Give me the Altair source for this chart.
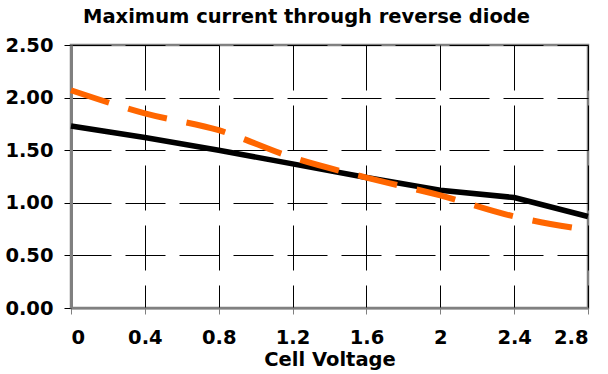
import altair as alt
import pandas as pd

# Cell voltage (V) and maximum reverse-diode current (A) for two series
voltage = [0.0, 0.4, 0.8, 1.2, 1.6, 2.0, 2.4, 2.8]
current_a = [1.73, 1.62, 1.50, 1.37, 1.24, 1.12, 1.05, 0.87]
current_b = [2.07, 1.85, 1.69, 1.43, 1.24, 1.07, 0.87, 0.74]

x_ticks = [0.0, 0.4, 0.8, 1.2, 1.6, 2.0, 2.4, 2.8]
y_ticks = [0.0, 0.5, 1.0, 1.5, 2.0, 2.5]

df = pd.DataFrame({"voltage": voltage, "a": current_a, "b": current_b})

FONT = "DejaVu Sans"
SIZE = 19.5

x_enc = alt.X(
    "voltage:Q",
    title="Cell Voltage",
    scale=alt.Scale(domain=[0, 2.8], nice=False),
    axis=alt.Axis(
        values=x_ticks,
        labelExpr="format(datum.value, '.2~f')",
        grid=True,
        gridColor="black",
        gridDash=[45, 15],
        gridWidth=1,
        domainColor="#808080",
        domainWidth=2,
        tickColor="#808080",
        tickSize=6,
        labelFont=FONT,
        labelFontWeight="bold",
        labelFontSize=SIZE,
        labelColor="black",
        labelPadding=14,
        labelOverlap=False,
        titleFont=FONT,
        titleFontWeight="bold",
        titleFontSize=SIZE,
        titleColor="black",
        titlePadding=4,
    ),
)

y_axis = alt.Axis(
    values=y_ticks,
    format=".2f",
    title=None,
    grid=True,
    gridColor="black",
    gridDash=[40, 14],
    gridWidth=1,
    domainColor="#808080",
    domainWidth=3,
    tickColor="black",
    tickSize=7,
    labelFont=FONT,
    labelFontWeight="bold",
    labelFontSize=SIZE,
    labelColor="black",
    labelPadding=11,
)

black_line = alt.Chart(df).mark_line(
    color="black", strokeWidth=5.5, strokeCap="butt"
).encode(
    x=x_enc,
    y=alt.Y("a:Q", scale=alt.Scale(domain=[0, 2.5], nice=False), axis=y_axis),
)

orange_line = alt.Chart(df).mark_line(
    color="#FF6600", strokeWidth=6, strokeDash=[40, 20], strokeCap="butt",
    interpolate="monotone",
).encode(
    x=alt.X("voltage:Q"),
    y=alt.Y("b:Q"),
)

chart = (
    alt.layer(black_line, orange_line)
    .properties(
        width=517,
        height=263,
        autosize=alt.AutoSizeParams(type="none"),
        padding={"left": 71, "top": 45, "right": 20, "bottom": 66},
        title=alt.TitleParams(
            "Maximum current through reverse diode",
            font=FONT,
            fontWeight="bold",
            fontSize=SIZE,
            color="black",
            anchor="middle",
            dx=-23,
            offset=8,
        ),
        background="white",
    )
    .configure_view(stroke="#808080", strokeWidth=2.5)
)

chart.save("out.html", embed_options={"renderer": "svg", "actions": False})
